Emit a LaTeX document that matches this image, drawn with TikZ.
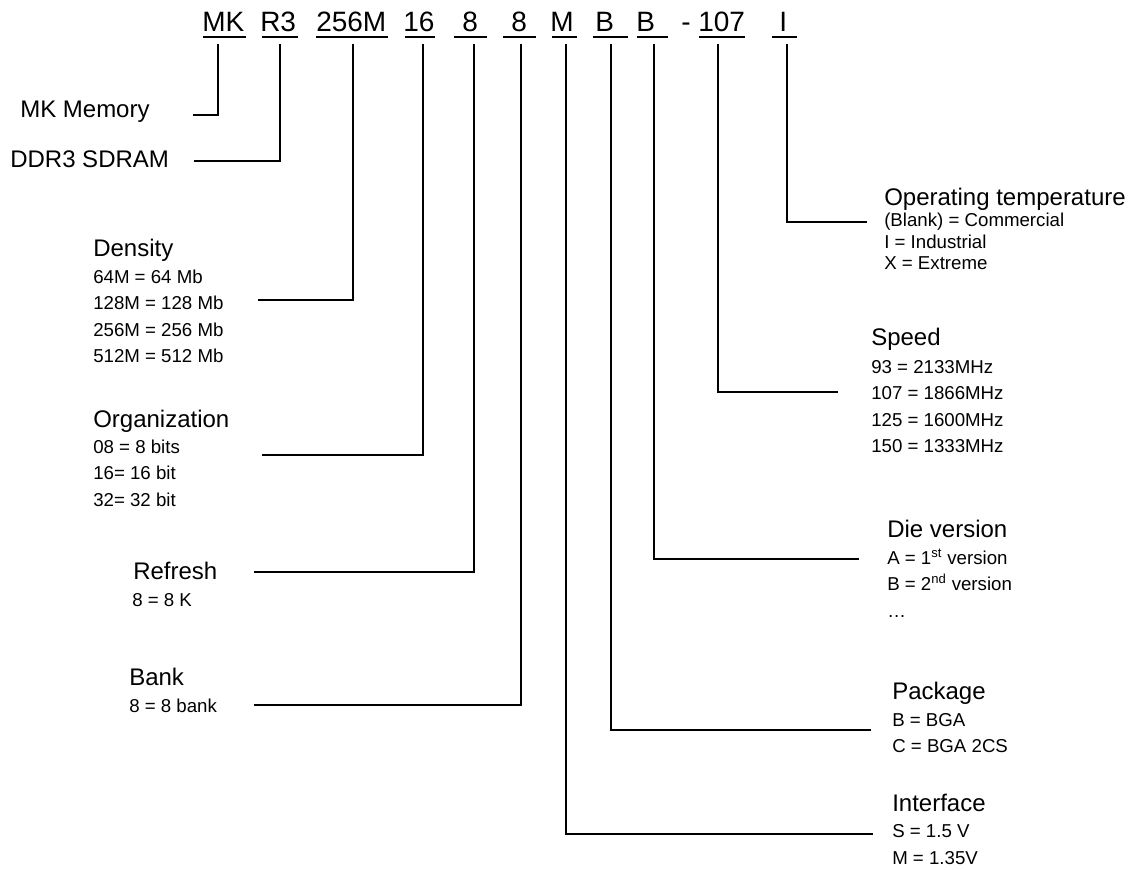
\documentclass[tikz,border=0pt]{standalone}
\usepackage{fontspec}
\setmainfont{Liberation Sans}
\newcommand{\toprowfont}{\fontsize{21}{25}\selectfont}
\newcommand{\ttlfont}{\fontsize{18}{22}\selectfont}
\newcommand{\itmfont}{\fontsize{14}{17}\selectfont}
\begin{document}
\begin{tikzpicture}[x=0.75pt,y=-0.75pt,
  code/.style={anchor=base west,inner sep=0pt,font=\toprowfont},
  ttl/.style={anchor=base west,inner sep=0pt,font=\ttlfont},
  itm/.style={anchor=base west,inner sep=0pt,font=\itmfont},
  conn/.style={line width=1.4pt},
  uline/.style={line width=2pt}]
\useasboundingbox (0,0) rectangle (1139,870);

% ---- part number row ----
\node[code] (cMK)  at (202,32) {MK};
\node[code] (cR3)  at (260,32) {R3};
\node[code] (cDen) at (316,32) {256M};
\node[code] (cOrg) at (403,32) {16};
\node[code] (cRef) at (462,32) {8};
\node[code] (cBnk) at (511,32) {8};
\node[code] (cIf)  at (550,32) {M};
\node[code] (cPk)  at (595,32) {B};
\node[code] (cDie) at (636,32) {B};
\node[code] (cDash) at (681,32) {-};
\node[code] (cSpd) at (698,32) {107};
\node[code] (cTmp) at (779,32) {I};

\draw[uline] (203,37) -- (246,37);
\draw[uline] (262,37) -- (298,37);
\draw[uline] (316,37) -- (388,37);
\draw[uline] (405,37) -- (435,37);
\draw[uline] (454,37) -- (487,37);
\draw[uline] (503,37) -- (536,37);
\draw[uline] (552,37) -- (577,37);
\draw[uline] (593,37) -- (628,37);
\draw[uline] (637,37) -- (668,37);
\draw[uline] (699,37) -- (745,37);
\draw[uline] (772,37) -- (797,37);

% ---- left column labels ----
\node[ttl] (lMK)  at (20,118)  {MK Memory};
\node[ttl] (lR3)  at (10,168)  {DDR3 SDRAM};

\node[ttl] (lDen) at (93,257) {Density};
\node[itm] (lDen1) at (93,283) {64M = 64 Mb};
\node[itm] (lDen2) at (93,309.5) {128M = 128 Mb};
\node[itm] (lDen3) at (93,336) {256M = 256 Mb};
\node[itm] (lDen4) at (93,362.5) {512M = 512 Mb};

\node[ttl] (lOrg) at (93,427) {Organization};
\node[itm] (lOrg1) at (93,453) {08 = 8 bits};
\node[itm] (lOrg2) at (93,479.5) {16= 16 bit};
\node[itm] (lOrg3) at (93,506) {32= 32 bit};

\node[ttl] (lRef) at (133,579) {Refresh};
\node[itm] (lRef1) at (132,606) {8 = 8 K};

\node[ttl] (lBnk) at (129,685) {Bank};
\node[itm] (lBnk1) at (129,712) {8 = 8 bank};

% ---- right column labels ----
\node[ttl] (rTmp) at (884,206) {Operating temperature};
\node[itm] (rTmp1) at (884,226.5) {(Blank) = Commercial};
\node[itm] (rTmp2) at (884,248) {I = Industrial};
\node[itm] (rTmp3) at (884,269.5) {X = Extreme};

\node[ttl] (rSpd) at (871,345) {Speed};
\node[itm] (rSpd1) at (871,373) {93 = 2133MHz};
\node[itm] (rSpd2) at (871,399.5) {107 = 1866MHz};
\node[itm] (rSpd3) at (871,426) {125 = 1600MHz};
\node[itm] (rSpd4) at (871,452.5) {150 = 1333MHz};

\node[ttl] (rDie) at (887,537) {Die version};
\node[itm] (rDie1) at (887,564) {A = 1\textsuperscript{st} version};
\node[itm] (rDie2) at (887,590.5) {B = 2\textsuperscript{nd} version};
\node[itm] (rDie3) at (887,617) {…};

\node[ttl] (rPk) at (892,699) {Package};
\node[itm] (rPk1) at (892,726) {B = BGA};
\node[itm] (rPk2) at (892,752.5) {C = BGA 2CS};

\node[ttl] (rIf) at (892,811) {Interface};
\node[itm] (rIf1) at (892,837.5) {S = 1.5 V};
\node[itm] (rIf2) at (892,864) {M = 1.35V};

% ---- connector coordinates ----
\coordinate (kMK)  at (218,44);  \coordinate (eMK)  at (193,115);
\coordinate (kR3)  at (280,44);  \coordinate (eR3)  at (194,161);
\coordinate (kDen) at (353,44);  \coordinate (eDen) at (258,300);
\coordinate (kOrg) at (423,44);  \coordinate (eOrg) at (262,455);
\coordinate (kRef) at (474,44);  \coordinate (eRef) at (254,572);
\coordinate (kBnk) at (521,44);  \coordinate (eBnk) at (254,705);
\coordinate (kIf)  at (566,44);  \coordinate (eIf)  at (873,834);
\coordinate (kPk)  at (611,44);  \coordinate (ePk)  at (871,730);
\coordinate (kDie) at (654,44);  \coordinate (eDie) at (859,559);
\coordinate (kSpd) at (718,44);  \coordinate (eSpd) at (838,392);
\coordinate (kTmp) at (787,44);  \coordinate (eTmp) at (867,222);

\draw[conn] (kMK)  |- (eMK);
\draw[conn] (kR3)  |- (eR3);
\draw[conn] (kDen) |- (eDen);
\draw[conn] (kOrg) |- (eOrg);
\draw[conn] (kRef) |- (eRef);
\draw[conn] (kBnk) |- (eBnk);
\draw[conn] (kIf)  |- (eIf);
\draw[conn] (kPk)  |- (ePk);
\draw[conn] (kDie) |- (eDie);
\draw[conn] (kSpd) |- (eSpd);
\draw[conn] (kTmp) |- (eTmp);
\end{tikzpicture}
\end{document}
